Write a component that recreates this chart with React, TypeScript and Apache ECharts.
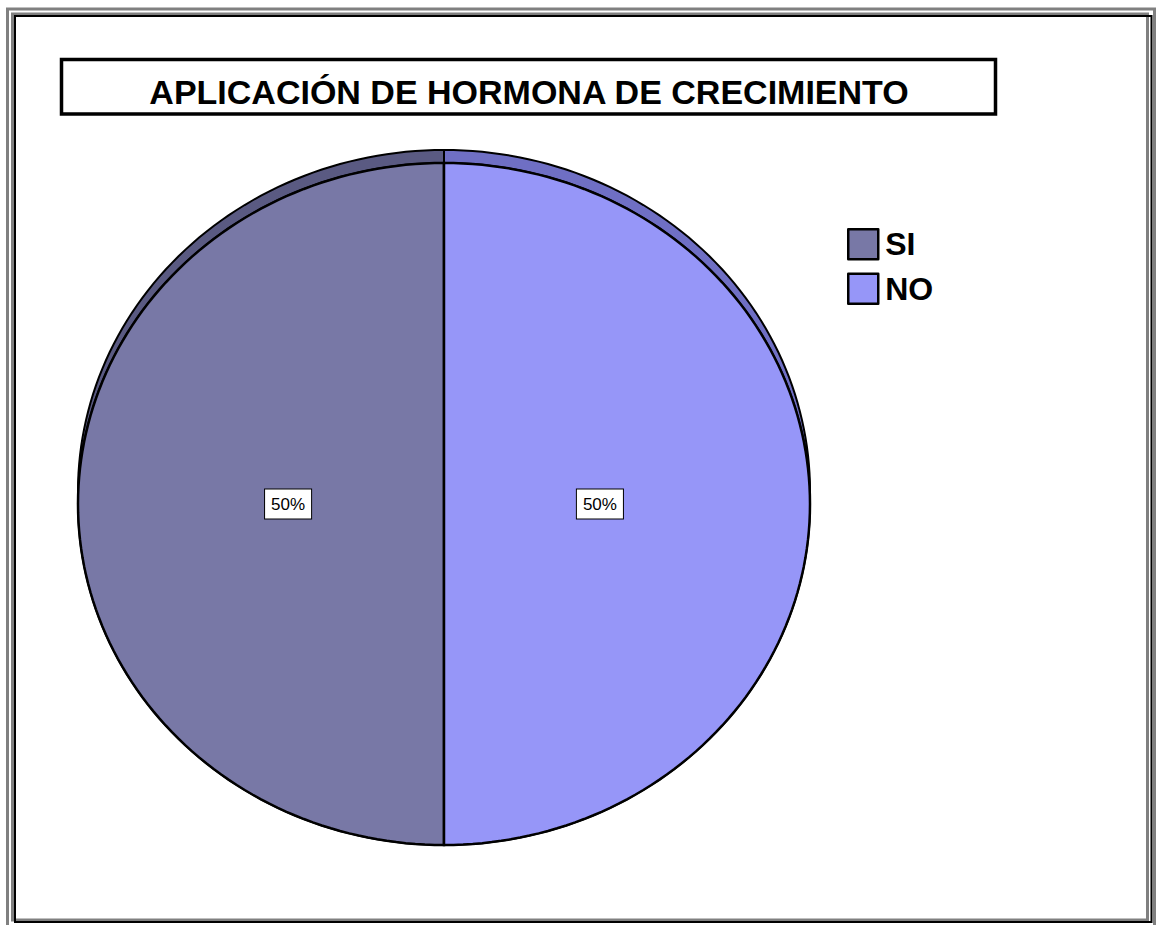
import React, { useEffect, useRef } from "react";
import * as echarts from "echarts";

const titleText = "APLICACIÓN DE HORMONA DE CRECIMIENTO";
const categories = ["SI", "NO"];
const values = [50, 50];
const faceColors = ["#7878a6", "#9696f8"];
const rimColors = ["#5a5a82", "#6f6fc4"];

const CX = 444;
const CY = 504;
const RX = 366;
const RY = 341;
const DEPTH = 13;
const FONT = '"Liberation Sans", Arial, Helvetica, sans-serif';

function sliceAngles(i: number) {
  const total = values.reduce((a, b) => a + b, 0);
  let start = 0;
  for (let k = 0; k < i; k++) start += values[k];
  const a1 = (-start / total) * Math.PI * 2;
  const a2 = (-(start + values[i]) / total) * Math.PI * 2;
  return { a1, a2, total };
}

function arc(a1: number, a2: number, cy: number, n = 120) {
  const pts: number[][] = [];
  for (let k = 0; k <= n; k++) {
    const t = a1 + ((a2 - a1) * k) / n;
    pts.push([CX + RX * Math.sin(t), cy - RY * Math.cos(t)]);
  }
  return pts;
}

export default function App() {
  const ref = useRef<HTMLDivElement>(null);
  useEffect(() => {
    if (!ref.current) return;
    const chart = echarts.init(ref.current, null, { renderer: "svg" });
    const data = categories.map((c, i) => ({ name: c, value: values[i] }));
    chart.setOption({
      animation: false,
      backgroundColor: "#ffffff",
      legend: {
        data: categories,
        orient: "vertical",
        left: 847,
        top: 228,
        padding: 0,
        itemWidth: 30,
        itemHeight: 30,
        itemGap: 12,
        icon: "rect",
        itemStyle: { borderColor: "#000", borderWidth: 2.5 },
        textStyle: { fontSize: 32, fontWeight: "bold", fontFamily: FONT, color: "#000", padding: [0, 0, 0, 2] },
        selectedMode: false,
      },
      graphic: [
        { type: "rect", shape: { x: 7.5, y: 9, width: 1147, height: 925 }, style: { fill: "none", stroke: "#808080", lineWidth: 3 }, z: 10 },
        { type: "rect", shape: { x: 12.5, y: 14, width: 1135, height: 906 }, style: { fill: "none", stroke: "#808080", lineWidth: 3 }, z: 10 },
        { type: "rect", shape: { x: 15, y: 16, width: 1136.5, height: 906 }, style: { fill: "none", stroke: "#000", lineWidth: 2 }, z: 10 },
        { type: "rect", shape: { x: 61.5, y: 59.5, width: 934, height: 54.5 }, style: { fill: "#fff", stroke: "#000", lineWidth: 3.5 }, z: 10 },
        {
          type: "text",
          x: 529,
          y: 92,
          style: { text: titleText, font: `bold 34px ${FONT}`, fill: "#000", align: "center", verticalAlign: "middle" },
          z: 11,
        },
      ],
      series: [
        {
          type: "pie",
          radius: ["0%", "0%"],
          center: [-200, -200],
          silent: true,
          label: { show: false },
          labelLine: { show: false },
          data: categories.map((c, i) => ({ name: c, value: values[i], itemStyle: { color: faceColors[i] } })),
        },
        {
          type: "custom",
          coordinateSystem: "none",
          z: 1,
          data,
          renderItem: (params: any) => {
            const i = params.dataIndex;
            const { a1, a2 } = sliceAngles(i);
            const back = arc(a1, a2, CY - DEPTH);
            const front = arc(a2, a1, CY);
            return {
              type: "polygon",
              shape: { points: back.concat(front) },
              style: { fill: rimColors[i], stroke: "#000", lineWidth: 2 },
            };
          },
        },
        {
          type: "custom",
          coordinateSystem: "none",
          z: 2,
          data,
          renderItem: (params: any) => {
            const i = params.dataIndex;
            const { a1, a2, total } = sliceAngles(i);
            const pts = [[CX, CY]].concat(arc(a1, a2, CY));
            const mid = (a1 + a2) / 2;
            const lx = CX + RX * 0.426 * Math.sin(mid);
            const ly = CY - RY * 0.426 * Math.cos(mid);
            const pct = Math.round((values[i] / total) * 100) + "%";
            return {
              type: "group",
              children: [
                {
                  type: "polygon",
                  shape: { points: pts },
                  style: { fill: faceColors[i], stroke: "#000", lineWidth: 2.5 },
                },
                {
                  type: "text",
                  x: lx,
                  y: ly,
                  style: {
                    text: pct,
                    font: `17px ${FONT}`,
                    fill: "#000",
                    align: "center",
                    verticalAlign: "middle",
                    backgroundColor: "#fff",
                    borderColor: "#000",
                    borderWidth: 1,
                    padding: [6, 6, 6, 6],
                  },
                },
              ],
            };
          },
        },
      ],
    });
    return () => chart.dispose();
  }, []);
  return (
    <div
      ref={ref}
      style={{ position: "absolute", left: 0, top: 0, width: 1162, height: 925 }}
    />
  );
}
